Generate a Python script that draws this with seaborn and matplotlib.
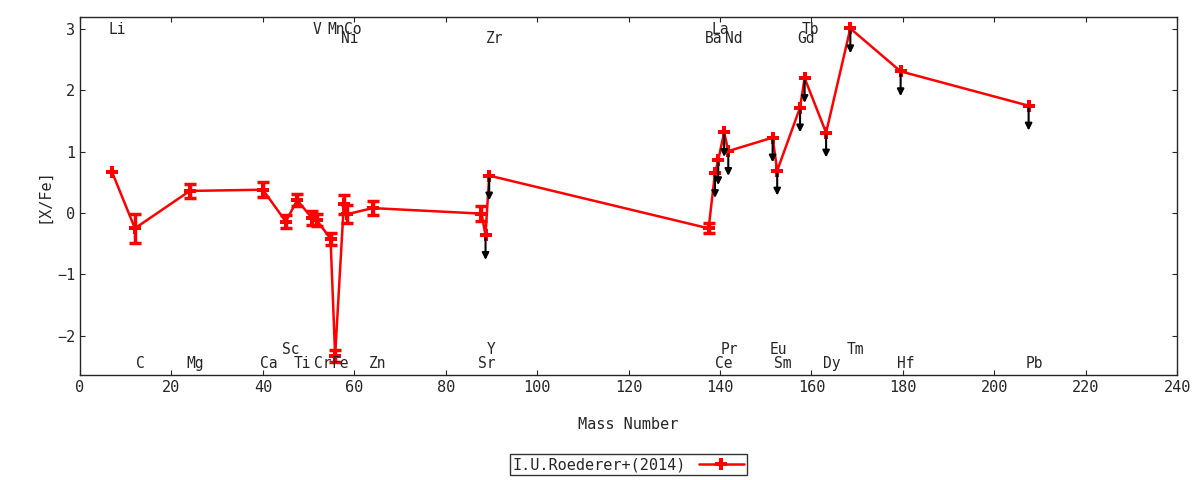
import matplotlib
matplotlib.use("Agg")
import matplotlib.pyplot as plt
import seaborn as sns
import pandas as pd
import numpy as np

elements = ["Li","C","Mg","Ca","Sc","Ti","V","Cr","Mn","Fe","Ni","Co","Zn","Sr","Y","Zr",
            "Ba","La","Ce","Pr","Nd","Eu","Sm","Gd","Tb","Dy","Tm","Hf","Pb"]
mass = [7,12,24,40,45,47.5,50.7,51.8,54.8,55.8,57.7,58.4,64,87.8,88.7,89.5,
        137.5,138.9,139.6,140.9,141.8,151.5,152.5,157.5,158.5,163.2,168.5,179.5,207.5]
value = [0.67,-0.25,0.36,0.38,-0.14,0.21,-0.08,-0.12,-0.42,-2.33,0.14,-0.02,0.08,-0.01,-0.36,0.61,
         -0.25,0.65,0.86,1.32,1.01,1.23,0.69,1.72,2.2,1.31,3.01,2.31,1.75]
err = [0,0.24,0.12,0.12,0.1,0.1,0.12,0.1,0.1,0.1,0.15,0.15,0.12,0.12,0,0,
       0.08,0,0,0,0,0,0,0,0,0,0,0,0]
upper = [0,0,0,0,0,0,0,0,0,0,0,0,0,0,1,1,
         0,1,1,1,1,1,1,1,1,1,1,1,1]
label_y = [3.0,-2.45,-2.45,-2.45,-2.23,-2.45,3.0,-2.45,3.0,-2.45,2.85,3.0,-2.45,-2.45,-2.23,2.85,
           2.85,3.0,-2.45,-2.23,2.85,-2.23,-2.45,2.85,3.0,-2.45,-2.23,-2.45,-2.45]
arrow_len = 0.45

df = pd.DataFrame(dict(el=elements, mass=mass, value=value, err=err, upper=upper, ly=label_y))

sns.set_style("ticks")
plt.rcParams['font.family'] = ['DejaVu Sans Mono']
fig = plt.figure(figsize=(12, 4.8), dpi=100)
ax = fig.add_axes([0.0667, 0.219, 0.9143, 0.746])

for _, r in df[df.upper == 1].iterrows():
    ax.annotate("", xy=(r.mass, r.value - arrow_len), xytext=(r.mass, r.value),
                arrowprops=dict(arrowstyle="-|>", color="black", lw=1.5, mutation_scale=10))

sns.lineplot(data=df, x="mass", y="value", color="red", lw=1.8, ax=ax, sort=True,
             marker="P", markersize=8, markeredgewidth=0, label="I.U.Roederer+(2014)")
e = df[df.err > 0]
ax.errorbar(e.mass, e.value, yerr=e.err, fmt="none", ecolor="red", elinewidth=2.5, capsize=4, capthick=2.5)

for _, r in df.iterrows():
    ax.text(r.mass + 1.2, r.ly, r.el, ha="center", va="center", fontsize=10.5)

ax.set_xlim(0, 240)
ax.set_ylim(-2.64, 3.2)
ax.set_xticks(range(0, 241, 20))
ax.set_yticks([-2, -1, 0, 1, 2, 3])
ax.tick_params(direction="in", top=True, right=True, labelsize=11)
for s in ax.spines.values():
    s.set_linewidth(1)
ax.set_xlabel("Mass Number", fontsize=11, labelpad=16)
ax.set_ylabel("[X/Fe]", fontsize=11)
leg = ax.legend(loc="upper center", bbox_to_anchor=(0.5, -0.2), frameon=True, fancybox=False,
                edgecolor="black", fontsize=11, markerfirst=False, handlelength=3,
                borderpad=0.2)
fig.savefig("out.png", dpi=100)
